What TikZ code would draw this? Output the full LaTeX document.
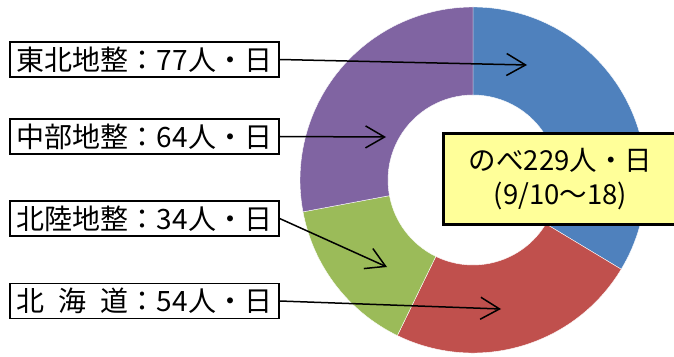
\documentclass[tikz,border=0pt]{standalone}
\usepackage{fontspec}
\setmainfont{Noto Sans CJK JP}
\usetikzlibrary{calc,arrows.meta}
\tikzset{>={Straight Barb[length=19pt,width=22pt]}}
\definecolor{chblue}{RGB}{79,129,189}
\definecolor{chred}{RGB}{192,80,77}
\definecolor{chgreen}{RGB}{155,187,89}
\definecolor{chpurple}{RGB}{128,100,162}
\definecolor{notebg}{RGB}{255,255,153}
\tikzset{
  lbl/.style={draw=black,line width=1.2pt,fill=white,minimum width=269pt,
    minimum height=35pt,inner sep=0pt,font=\fontsize{28}{30}\selectfont},
  pointer/.style={->,line width=1.5pt,draw=black},
}

\begin{document}
\begin{tikzpicture}[x=1pt,y=1pt]
    \useasboundingbox (0,0) rectangle (674,356);
    \coordinate (ring) at (473,176);
    % donut, clockwise from the top
    \foreach \a/\b/\col in {90/-31.05/chblue,-31.05/-115.94/chred,
        -115.94/-169.39/chgreen,-169.39/-270/chpurple} {
        \filldraw[fill=\col,draw=white,line width=.4pt]
          ($(ring)+(\a:173)$) arc[start angle=\a,end angle=\b,radius=173]
          -- ($(ring)+(\b:85)$) arc[start angle=\b,end angle=\a,radius=85] -- cycle;
      }
    \node[draw=black,line width=3pt,fill=notebg,minimum width=234pt,minimum height=91pt,
      inner sep=0pt,align=center,font=\fontsize{27.5}{34}\selectfont] (total) at (560.5,177)
      {のべ229人・日\\(9/10～18)};
    \node[lbl] (tohoku) at (144.5,296.5) {東北地整：77人・日};
    \node[lbl] (chubu) at (144.5,219.5) {中部地整：64人・日};
    \node[lbl] (hokuriku) at (144.5,137.5) {北陸地整：34人・日};
    \node[lbl] (hokkaido) at (144.5,55) {\makebox[4em][s]{北\hfill 海\hfill 道}：54人・日};
    \coordinate (tohoku tip) at (527,291);
    \coordinate (chubu tip) at (386,219);
    \coordinate (hokuriku tip) at (387,89);
    \coordinate (hokkaido tip) at (501,47);
    \draw[pointer] (tohoku.east) -- (tohoku tip);
    \draw[pointer] (chubu.east) -- (chubu tip);
    \draw[pointer] (hokuriku.east) -- (hokuriku tip);
    \draw[pointer] (hokkaido.east) -- (hokkaido tip);
  \end{tikzpicture}
\end{document}
